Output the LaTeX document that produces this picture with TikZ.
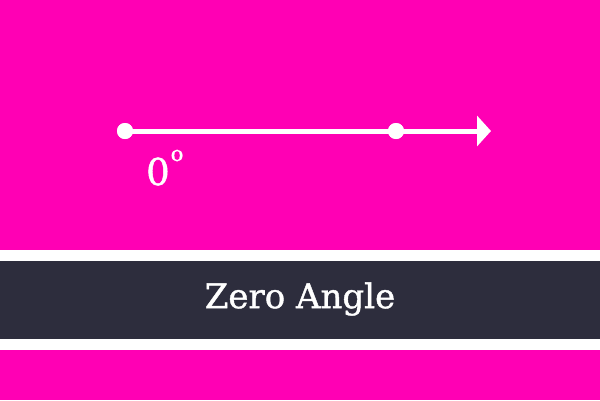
\documentclass[tikz,border=0pt]{standalone}
\usepackage{fontspec}
\setmainfont{DejaVu Serif}[FakeBold=1.2]
\usetikzlibrary{arrows.meta}
\definecolor{bgmag}{RGB}{255,0,180}
\definecolor{banddark}{RGB}{45,45,61}
\tikzset{
  dot/.style={circle,fill=white,inner sep=0pt,minimum size=16pt},
  ray/.style={white,line width=5pt,-{Triangle[length=14pt,width=30pt]}},
}
\begin{document}
\begin{tikzpicture}[x=1pt,y=-1pt]
\useasboundingbox (0,0) rectangle (600,400);
\fill[bgmag] (0,0) rectangle (600,400);
\fill[white] (0,250) rectangle (600,350);
\fill[banddark] (0,261) rectangle (600,339);
\node[dot] (a) at (125,131) {};
\node[dot] (b) at (396,131) {};
\coordinate (tip) at (491,131);
\draw[ray] (a.center) -- (tip);
\node[dot] at (a) {};
\node[dot] at (b) {};
\node[text=white,font=\fontsize{37}{37}\selectfont,anchor=base west,inner sep=0pt] (lbl) at (146,185) {0\hspace{1pt}\raisebox{24pt}{\fontsize{21}{21}\selectfont o}};
\node[text=white,font=\fontsize{34}{34}\selectfont] (title) at (300,299) {Zero Angle};
\end{tikzpicture}
\end{document}
